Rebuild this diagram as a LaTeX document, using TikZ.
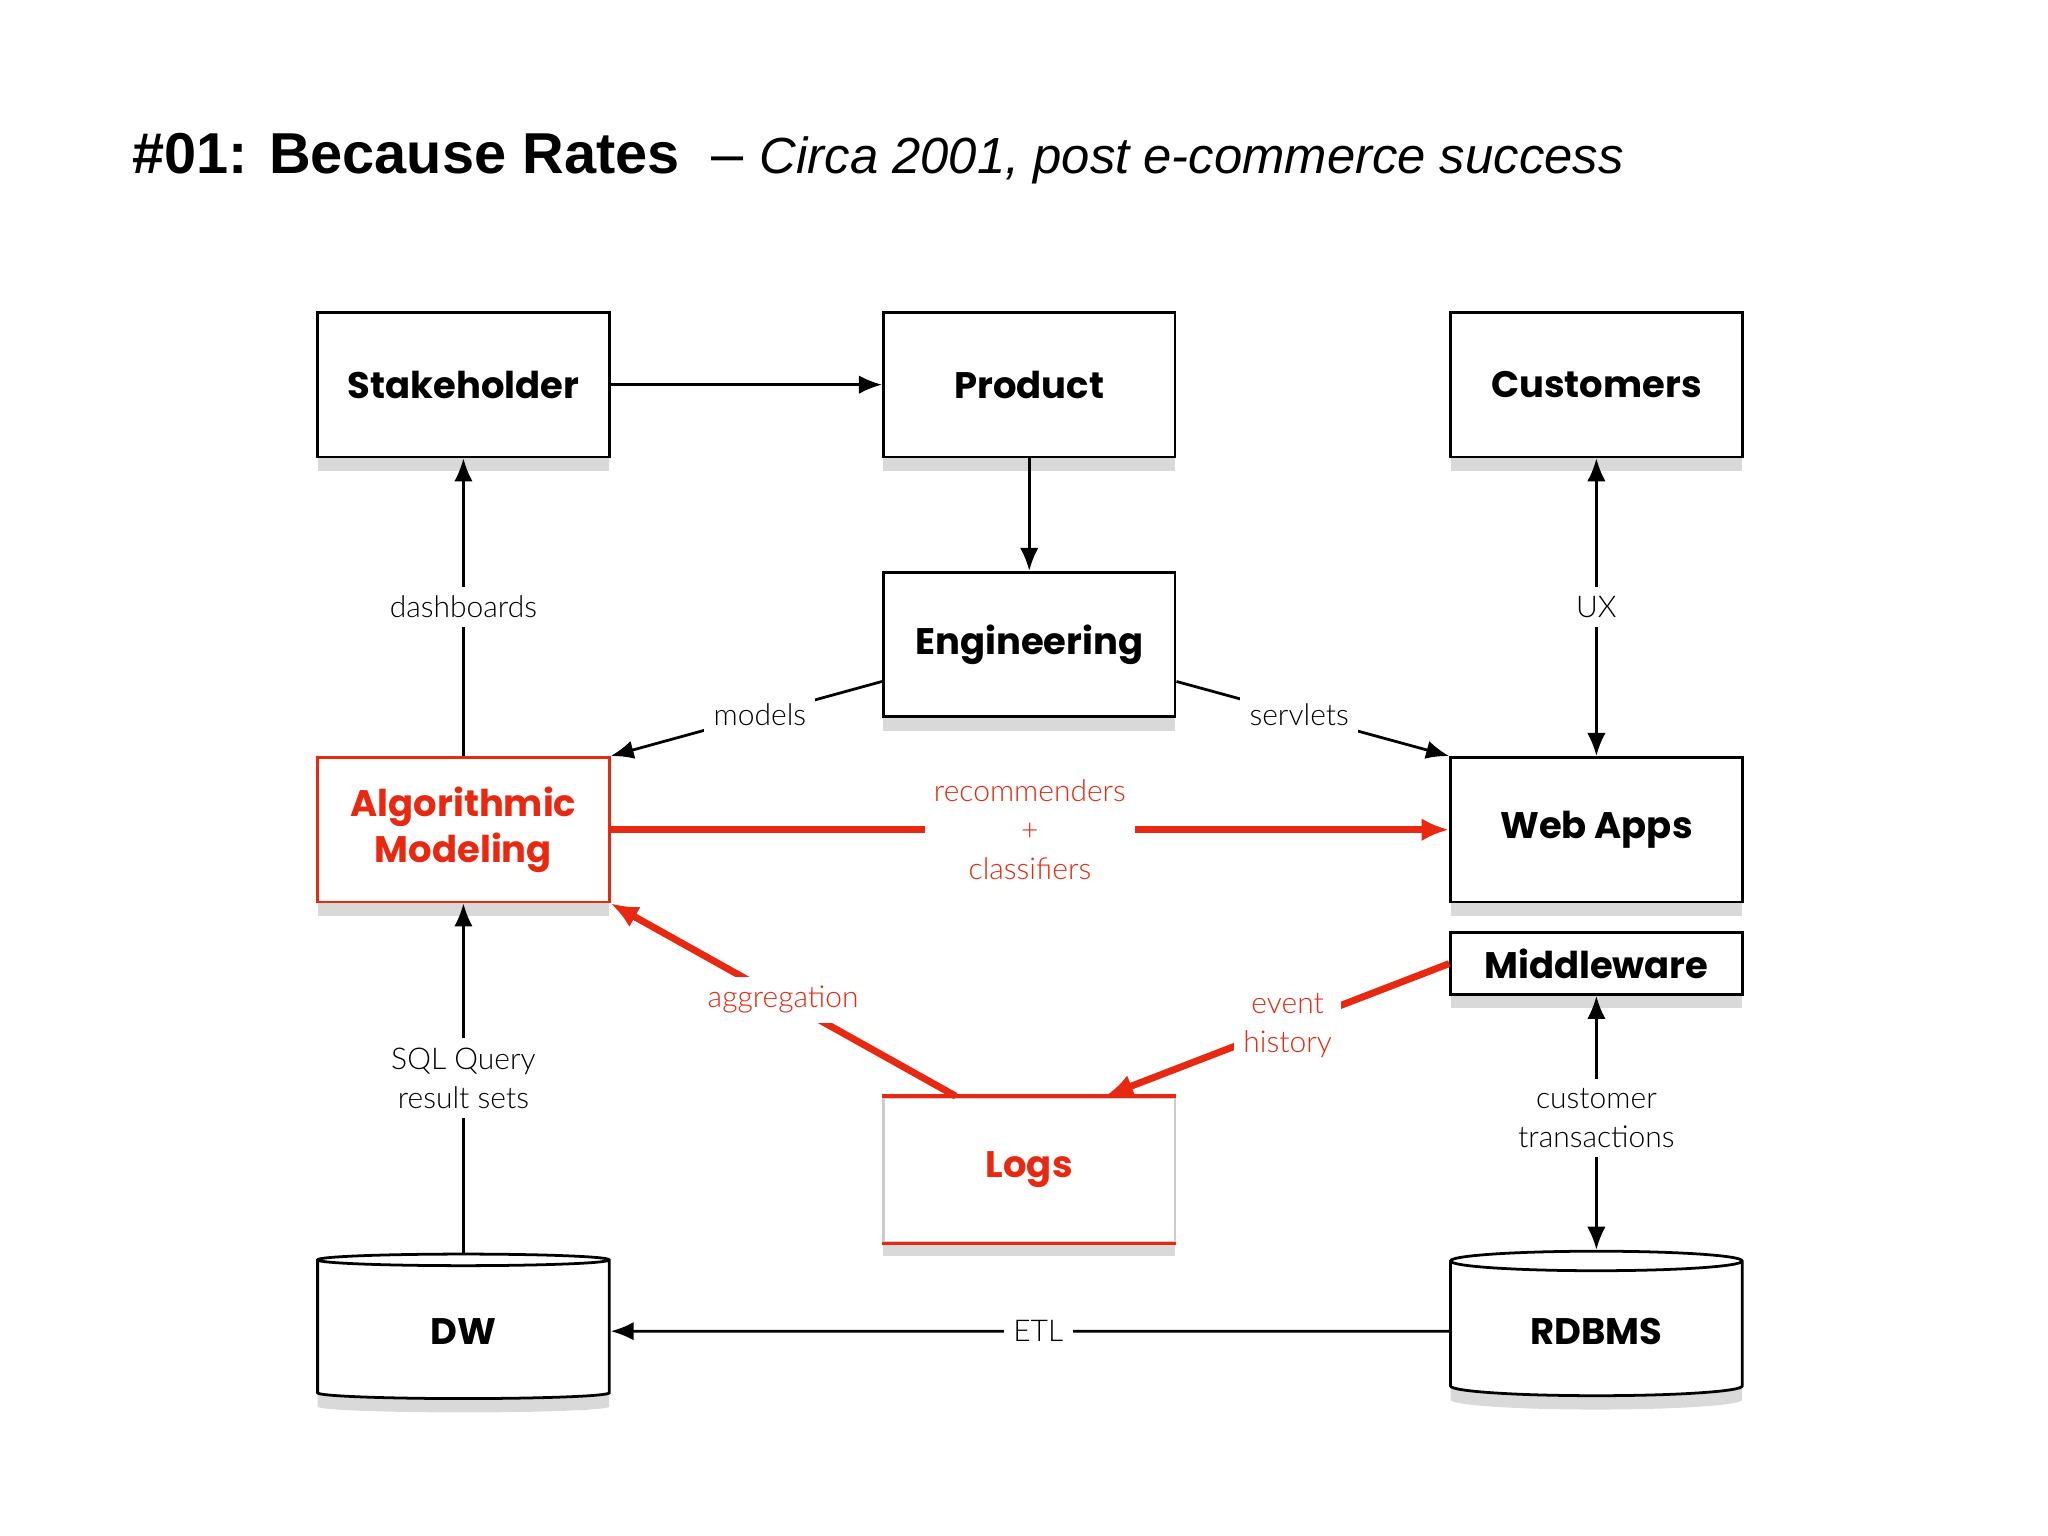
\documentclass[tikz,border=0pt]{standalone}
\usepackage{fontspec}
\setmainfont{Lato}
\newfontfamily\boxfont{Poppins}
\newfontfamily\titlefont{Liberation Sans}
\newfontfamily\labfont{Lato Light}
\usetikzlibrary{shapes.geometric,shadows,arrows.meta,calc}
\definecolor{myred}{RGB}{232,40,16}
\tikzset{
  bx/.style={draw,semithick,fill=white,minimum width=2.22cm,minimum height=1.1cm,font=\boxfont\bfseries\fontsize{8}{10}\selectfont,align=center,
     drop shadow={shadow xshift=0pt,shadow yshift=-3pt,opacity=0.3}},
  cyl/.style={bx,cylinder,shape border rotate=90,aspect=0.12},
  lab/.style={fill=white,font=\labfont\fontsize{6.5}{8.5}\selectfont,align=center,inner sep=2pt},
  rlab/.style={lab,text=myred},
  con/.style={-{Latex[length=5pt,width=4pt]},semithick},
  rcon/.style={-{Latex[length=6pt,width=5pt]},myred,line width=1.5pt},
}
\begin{document}
\begin{tikzpicture}[x=0.01cm,y=-0.01cm]
\useasboundingbox (0,0) rectangle (1560,1170);
\node[anchor=base west,inner sep=0] (title) at (100,132) {\titlefont\bfseries\fontsize{12.5}{15}\selectfont \#01: Because Rates \mdseries\ – \itshape\fontsize{11}{14}\selectfont Circa 2001, post e-commerce success};

\node[bx] (stake) at (353,293) {Stakeholder};
\node[bx] (prod) at (784,293) {Product};
\node[bx] (cust) at (1216,293) {Customers};
\node[bx] (eng) at (784,491) {Engineering};
\node[bx,draw=myred,text=myred] (algo) at (353,632) {Algorithmic\\Modeling};
\node[bx] (web) at (1216,632) {Web Apps};
\node[bx,minimum height=0.47cm] (mid) at (1216,734) {Middleware};
\node[bx,draw=gray!40,text=myred] (logs) at (784,891) {Logs};
\draw[myred,thick] (logs.north west)--(logs.north east) (logs.south west)--(logs.south east);
\node[cyl] (dw) at (353,1014) {DW};
\node[cyl] (rdb) at (1216,1014) {RDBMS};
\coordinate (engl) at ($(eng.south west)+(0,-28)$);
\coordinate (engr) at ($(eng.south east)+(0,-28)$);
\coordinate (logl) at ($(logs.north)+(-56,0)$);
\coordinate (logr) at ($(logs.north)+(58,0)$);

\draw[con] (stake) -- (prod);
\draw[con] (prod) -- (eng);
\draw[con] (algo) -- node[lab,pos=0.5]{dashboards} (stake);
\draw[con,{Latex[length=5pt,width=4pt]}-{Latex[length=5pt,width=4pt]}] (cust) -- node[lab,pos=0.5]{UX} (web);
\draw[con] (engl) -- node[lab,pos=0.45]{models} (algo.north east);
\draw[con] (engr) -- node[lab,pos=0.45]{servlets} (web.north west);
\draw[rcon] (algo) -- node[rlab]{recommenders\\+\\classifiers} (web);
\draw[rcon] (logl) -- node[rlab,pos=0.5]{aggregation} (algo.south east);
\draw[rcon] (mid.west) -- node[rlab,pos=0.47]{event\\history} (logr);
\draw[con,{Latex[length=5pt,width=4pt]}-{Latex[length=5pt,width=4pt]}] (mid) -- node[lab,pos=0.48]{customer\\transactions} (rdb.top);
\draw[con] (dw.top) -- node[lab,pos=0.5]{SQL Query\\result sets} (algo);
\draw[con] (rdb) -- node[lab,pos=0.49]{ETL} (dw);
\end{tikzpicture}
\end{document}
